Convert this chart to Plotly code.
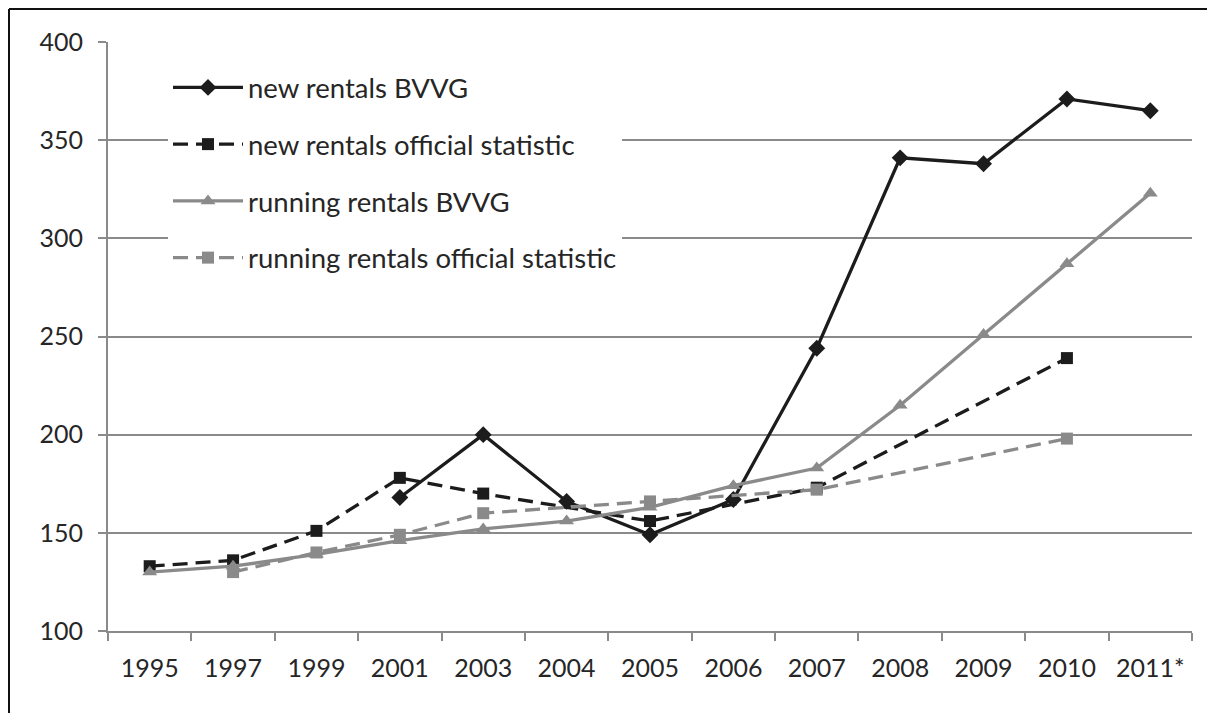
import plotly.graph_objects as go

years = ["1995", "1997", "1999", "2001", "2003", "2004", "2005", "2006", "2007", "2008", "2009", "2010", "2011*"]
new_bvvg = [None, None, None, 168, 200, 166, 149, 167, 244, 341, 338, 371, 365]
new_official = [133, 136, 151, 178, 170, None, 156, None, 173, None, None, 239, None]
running_bvvg = [130, 133, 139, 146, 152, 156, 163, 174, 183, 215, 251, 287, 323]
running_official = [None, 130, 140, 149, 160, None, 166, None, 172, None, None, 198, None]

y_ticks = [100, 150, 200, 250, 300, 350, 400]

BLACK = "#1c1c1c"
GRAY = "#8a8a8a"
TEXT = "#262626"
FONT = "Lato"

# page has an 8px body margin; figure coordinates are screen - 8
W, H = 1207, 705
L, R, T, B = 100, 23, 34, 82
pw, ph = W - L - R, H - T - B

def px_x(x):
    return (x - L) / pw

def px_y(y):
    return (H - B - y) / ph

DASH = "15px,8px"
LW = 3.3

fig = go.Figure()
fig.add_trace(go.Scatter(x=years, y=new_bvvg, name="new rentals BVVG", mode="lines+markers",
                         line=dict(color=BLACK, width=LW), marker=dict(symbol="diamond", size=13, color=BLACK),
                         connectgaps=True, legendgroup="a"))
fig.add_trace(go.Scatter(x=years, y=new_official, name="new rentals official statistic", mode="lines+markers",
                         line=dict(color=BLACK, width=LW, dash=DASH), marker=dict(symbol="square", size=12, color=BLACK),
                         connectgaps=True, legendgroup="b"))
fig.add_trace(go.Scatter(x=years, y=running_bvvg, name="running rentals BVVG", mode="lines+markers",
                         line=dict(color=GRAY, width=LW), marker=dict(symbol="triangle-up", size=13, color=GRAY),
                         connectgaps=True, legendgroup="c"))
fig.add_trace(go.Scatter(x=years, y=running_official, name="running rentals official statistic", mode="lines+markers",
                         line=dict(color=GRAY, width=LW, dash=DASH), marker=dict(symbol="square", size=12, color=GRAY),
                         connectgaps=True, legendgroup="d"))

# outer frame (left and top edges)
fig.add_shape(type="line", xref="paper", yref="paper", x0=px_x(1), x1=px_x(W + 5), y0=px_y(1), y1=px_y(1),
              line=dict(color="#111111", width=2))
fig.add_shape(type="line", xref="paper", yref="paper", x0=px_x(1), x1=px_x(1), y0=px_y(1), y1=px_y(H + 5),
              line=dict(color="#111111", width=2))

fig.update_layout(
    width=W, height=H,
    margin=dict(l=L, r=R, t=T, b=B),
    paper_bgcolor="white", plot_bgcolor="white",
    font=dict(family=FONT, size=25, color=TEXT),
    showlegend=True,
    legend=dict(x=px_x(160), y=px_y(55), xanchor="left", yanchor="top",
                bgcolor="white", borderwidth=0, itemwidth=70,
                tracegroupgap=18, traceorder="grouped",
                font=dict(family=FONT, size=27.5, color=TEXT)),
    xaxis=dict(type="category", categoryorder="array", categoryarray=years,
               showgrid=False, showline=True, linecolor=GRAY, linewidth=2,
               ticks="outside", ticklen=8, tickcolor=GRAY, tickwidth=2,
               tickson="boundaries", range=[-0.5, len(years) - 0.5],
               ticklabelstandoff=14, tickfont=dict(size=25, color=TEXT)),
    yaxis=dict(range=[100, 400], tickvals=y_ticks, showgrid=True, gridcolor=GRAY, gridwidth=2,
               showline=True, linecolor=GRAY, linewidth=2, zeroline=False,
               ticks="outside", ticklen=8, tickcolor=GRAY, tickwidth=2,
               ticklabelstandoff=10, tickfont=dict(size=25, color=TEXT)),
)

fig.write_html("out.html")
